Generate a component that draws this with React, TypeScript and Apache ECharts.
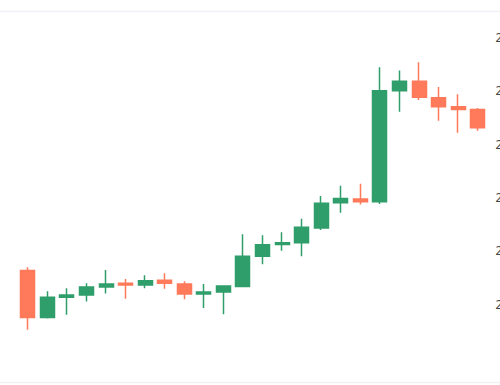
import React, { useEffect, useRef } from "react";
import * as echarts from "echarts";

const categories = [
  "D1", "D2", "D3", "D4", "D5", "D6", "D7", "D8", "D9", "D10", "D11", "D12",
  "D13", "D14", "D15", "D16", "D17", "D18", "D19", "D20", "D21", "D22", "D23", "D24",
];
// [open, close, low, high]
const opens = [206.3, 197.5, 201.3, 201.7, 203.2, 203.9, 203.6, 204.5, 203.8, 201.9, 202.3, 203.3, 209.0, 211.2, 211.5, 214.3, 219.0, 219.7, 219.2, 240.0, 241.8, 238.7, 237.0, 236.5];
const closes = [197.5, 201.3, 201.7, 203.2, 203.8, 203.6, 204.4, 203.9, 201.9, 202.3, 203.4, 209.0, 211.15, 211.5, 214.4, 218.9, 219.8, 219.2, 240.0, 241.8, 238.8, 237.0, 236.5, 233.1];
const lows = [195.2, 197.3, 198.0, 200.5, 202.0, 201.0, 203.0, 202.9, 200.9, 199.3, 198.1, 203.2, 207.5, 210.0, 209.0, 213.9, 217.15, 218.7, 218.8, 236.1, 238.3, 234.4, 232.15, 232.5];
const highs = [206.9, 202.4, 203.0, 203.9, 206.4, 204.7, 205.4, 205.8, 204.3, 203.8, 203.5, 213.1, 212.9, 213.5, 216.0, 220.3, 222.2, 222.6, 244.4, 243.8, 245.35, 240.7, 239.35, 236.8];

const UP = "#2F9E6B";
const DOWN = "#FF7A5A";

export default function App() {
  const ref = useRef<HTMLDivElement>(null);
  useEffect(() => {
    if (!ref.current) return;
    const chart = echarts.init(ref.current, undefined, { renderer: "svg" });
    const data = categories.map((_, i) => [opens[i], closes[i], lows[i], highs[i]]);
    chart.setOption({
      animation: false,
      backgroundColor: "#ffffff",
      grid: {
        left: 18,
        right: 12.5,
        top: 37.5,
        bottom: 27.5,
        containLabel: false,
        outerBoundsMode: "none",
      },
      xAxis: {
        type: "category",
        data: categories,
        show: false,
        boundaryGap: true,
      },
      yAxis: {
        type: "value",
        position: "right",
        min: 190,
        max: 250,
        interval: 10,
        axisLine: { show: false },
        axisTick: { show: false },
        splitLine: { show: false },
        axisLabel: {
          showMinLabel: false,
          color: "#444444",
          fontSize: 12,
          margin: 8,
          fontFamily: "Noto Sans",
        },
      },
      graphic: [
        { type: "line", shape: { x1: 0, y1: 11.5, x2: 500, y2: 11.5 }, style: { stroke: "#F1EFF7", lineWidth: 1.5 } },
        { type: "line", shape: { x1: 0, y1: 382.5, x2: 500, y2: 382.5 }, style: { stroke: "#F1F1F3", lineWidth: 1.5 } },
      ],
      series: [
        {
          type: "candlestick",
          data,
          barWidth: 14.5,
          itemStyle: {
            color: UP,
            color0: DOWN,
            borderColor: UP,
            borderColor0: DOWN,
            borderWidth: 1.5,
          },
        },
      ],
    });
    return () => chart.dispose();
  }, []);
  return (
    <div
      ref={ref}
      style={{ position: "fixed", left: 0, top: 0, width: 500, height: 385 }}
    />
  );
}
